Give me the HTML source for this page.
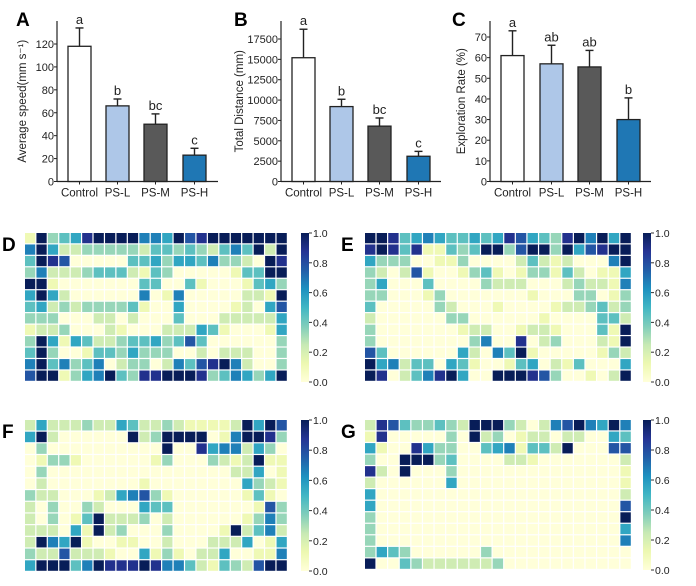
<!DOCTYPE html>
<html><head><meta charset="utf-8">
<style>
html,body{margin:0;padding:0;background:#fff;}
svg{display:block;font-family:"Liberation Sans",Arial,sans-serif;}
</style></head>
<body>
<svg id="fig" width="696" height="586" viewBox="0 0 696 586" xmlns="http://www.w3.org/2000/svg"></svg>
<script>
// ---- Bar chart data ----
const groups = ["Control","PS-L","PS-M","PS-H"];
const speedMean = [118, 66, 50, 23];
const speedErr = [134, 72, 59, 29];
const speedLetters = ["a","b","bc","c"];
const distMean = [15200, 9200, 6800, 3100];
const distErr = [18700, 10100, 7800, 3700];
const distLetters = ["a","b","bc","c"];
const explMean = [61, 57, 55.5, 30];
const explErr = [73, 66, 63.5, 40.5];
const explLetters = ["a","ab","ab","b"];
const speedTicks = [0,20,40,60,80,100,120];
const distTicks = [0,2500,5000,7500,10000,12500,15000,17500];
const explTicks = [0,10,20,30,40,50,60,70];
const cbTicks = ["0.0","0.2","0.4","0.6","0.8","1.0"];
// ---- Heatmap data (digit d -> value d/9) ----
const heatD = ["19345899996659789999999","69522333332443432464929","49870000044535546332098","36222344421430000014499","99100000004400410001453","59520000006016000002219","45232333341005000012057","33300022020004000222225","12230002100022254100015","39515422344534740000003","49300144353330020222003","69463460233026478962003","79913569438899983465359"];
const heatE = ["99845654454587543896959","89848114349937993957899","53330011300002421200069","32027100134101331420115","35000400003222000232216","33000130000000100033013","40000032000100001223423","20000003300000010000442","30000000122001221000419","30000000036008023000219","74000000520649100000132","95624405410014502140005","98024689500999873001029"];
const heatF = ["25222322542232111129597","59200000092399990169983","03000000000090085662530","01331000000130003212911","03000000000000000022501","02000000001000000005321","32200012567310000001410","20300320005440000000173","20301492223020000001363","22205192300030000192462","29659100110020002225015","32272221005131022500116","59994698889866421432799"];
const heatG = ["28743343299932026796596","18000003092301220220054","51008533004561442900077","30099934000022100000002","82090003000000000000001","20000005000000000000001","50000000000000000000002","50000000000000000000007","30000000000000000000009","30000000000000000000005","30000000000000000000006","35430000003000000000000","90043222222300000000000"];

const NS="http://www.w3.org/2000/svg";
const svg=document.getElementById('fig');
function mk(tag,attrs,parent){const e=document.createElementNS(NS,tag);for(const k in attrs)e.setAttribute(k,attrs[k]);(parent||svg).appendChild(e);return e;}
function txt(s,attrs,parent){const e=mk('text',attrs,parent);e.textContent=s;return e;}

const barColors=["#ffffff","#aec7e8","#595959","#1f77b4"];

function barChart(o){
  const g=mk('g',{});
  
  
  const y=v=>o.base-(v-0)*(o.base-o.refY)/o.refV;
  // axes
  const ya=mk('line',{x1:o.ax,y1:o.top,x2:o.ax,y2:o.base,stroke:'#222','stroke-width':1.2},g);
  
  const xa=mk('line',{x1:o.ax,y1:o.base,x2:o.axEnd,y2:o.base,stroke:'#222','stroke-width':1.2},g);
  
  o.ticks.forEach(t=>{
    mk('line',{x1:o.ax-3,y1:y(t),x2:o.ax,y2:y(t),stroke:'#222','stroke-width':1},g);
    const tl=txt(String(t),{x:o.ax-3,y:y(t)+4,'font-size':11,'text-anchor':'end',fill:'#222'},g);
    
  });
  groups.forEach((c,i)=>{
    const x0=o.bx[i];
    mk('line',{x1:x0+11.5,y1:y(o.mean[i]),x2:x0+11.5,y2:y(o.err[i]),stroke:'#222','stroke-width':1.4},g);
    mk('line',{x1:x0+7.5,y1:y(o.err[i]),x2:x0+15.5,y2:y(o.err[i]),stroke:'#222','stroke-width':1.4},g);
    const r=mk('rect',{x:x0,y:y(o.mean[i]),width:23,height:o.base-y(o.mean[i]),fill:barColors[i],stroke:'#222','stroke-width':1.3},g);
    
    mk('line',{x1:x0+11.5,y1:o.base,x2:x0+11.5,y2:o.base+3,stroke:'#222','stroke-width':1},g);
    const l=txt(o.letters[i],{x:x0+11.5,y:y(o.err[i])-4,'font-size':13,'text-anchor':'middle',fill:'#222'},g);
    
    const xl=txt(c,{x:x0+11.5,y:o.base+15,'font-size':11.5,'text-anchor':'middle',fill:'#222'},g);
    
  });
  const yt=txt(o.title,{x:0,y:0,'font-size':11.5,'text-anchor':'middle',fill:'#222',transform:`translate(${o.titleX},${(o.top+o.base)/2}) rotate(-90)`},g);
  
  const pl=txt(o.panel,{x:o.panelX,y:26,'font-size':19,'font-weight':'bold',fill:'#000'},g);
  
}

barChart({name:'speed-chart',ax:57,axEnd:218,top:21,base:181.5,refV:120,refY:44,ticks:speedTicks,bx:[68,106,144,183],mean:speedMean,err:speedErr,letters:speedLetters,title:'Average speed(mm s\u207B\u00B9)',titleX:26,panel:'A',panelX:16});
barChart({name:'distance-chart',ax:281,axEnd:441,top:21,base:181.5,refV:17500,refY:39,ticks:distTicks,bx:[292,330,368,407],mean:distMean,err:distErr,letters:distLetters,title:'Total Distance (mm)',titleX:243,panel:'B',panelX:234});
barChart({name:'exploration-chart',ax:490,axEnd:651,top:21,base:181.5,refV:70,refY:37,ticks:explTicks,bx:[501,540,578,617],mean:explMean,err:explErr,letters:explLetters,title:'Exploration Rate (%)',titleX:465,panel:'C',panelX:452});

// YlGnBu colormap
const stops=[[255,255,217],[237,248,177],[199,233,180],[127,205,187],[65,182,196],[29,145,192],[34,94,168],[37,52,148],[8,29,88]];
function cmap(v){v=Math.max(0,Math.min(1,v));const p=v*8;const i=Math.min(7,Math.floor(p));const f=p-i;const a=stops[i],b=stops[i+1];return `rgb(${Math.round(a[0]+(b[0]-a[0])*f)},${Math.round(a[1]+(b[1]-a[1])*f)},${Math.round(a[2]+(b[2]-a[2])*f)})`;}

const defs=mk('defs',{});
const grad=mk('linearGradient',{id:'cbg',x1:0,y1:1,x2:0,y2:0},defs);
for(let i=0;i<=16;i++){mk('stop',{offset:(i/16),'stop-color':cmap(i/16)},grad);}

function heatmap(o){
  const g=mk('g',{});
  
  
  const rows=o.data.length, cols=o.data[0].length;
  const cw=(o.x1-o.x0)/cols, ch=(o.y1-o.y0)/rows;
  o.data.forEach((row,r)=>{
    for(let c=0;c<cols;c++){
      const v=parseInt(row[c])/9;
      const cell=mk('rect',{x:o.x0+c*cw,y:o.y0+r*ch,width:cw-1.2,height:ch-1.2,fill:cmap(v)},g);
      
      
    }
  });
  const cb=mk('rect',{x:o.cbx,y:o.y0,width:8,height:o.cbH,fill:'url(#cbg)'},g);
  
  cbTicks.forEach((t,i)=>{
    const yy=o.y0+o.cbH-i*o.cbH/5;
    mk('line',{x1:o.cbx+8,y1:yy,x2:o.cbx+11,y2:yy,stroke:'#333','stroke-width':1},g);
    const tl=txt(t,{x:o.cbx+12,y:yy+4,'font-size':10.5,fill:'#222'},g);
    
  });
  const pl=txt(o.panel,{x:o.px,y:o.y0+18,'font-size':19,'font-weight':'bold',fill:'#000'},g);
  
}
heatmap({name:'heatmap-d',data:heatD,x0:25,x1:288,y0:233,y1:382,cbx:301,cbH:149,panel:'D',px:2});
heatmap({name:'heatmap-e',data:heatE,x0:365,x1:632,y0:233,y1:382,cbx:643,cbH:149,panel:'E',px:341});
heatmap({name:'heatmap-f',data:heatF,x0:25,x1:288,y0:420,y1:572,cbx:301,cbH:151,panel:'F',px:2});
heatmap({name:'heatmap-g',data:heatG,x0:365,x1:632,y0:420,y1:570,cbx:643,cbH:150,panel:'G',px:341});
</script>
</body></html>
